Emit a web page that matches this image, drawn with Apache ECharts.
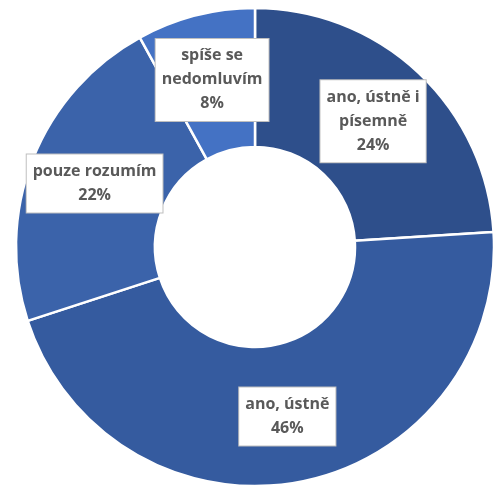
<!DOCTYPE html>
<html>
<head>
<meta charset="utf-8">
<script src="https://cdn.jsdelivr.net/npm/echarts@6/dist/echarts.min.js"></script>
<style>
html,body{margin:0;padding:0;background:#fff;}
#chart{width:494px;height:488px;}
</style>
</head>
<body>
<div id="chart"></div>
<script>
const categories = ['ano, ústně i písemně', 'ano, ústně', 'pouze rozumím', 'spíše se nedomluvím'];
const labelLines = ['ano, ústně i\npísemně', 'ano, ústně', 'pouze rozumím', 'spíše se\nnedomluvím'];
const values = [24, 46, 22, 8];
const colors = ['#2E4F8B', '#355B9F', '#3B63AA', '#4472C4'];

const chart = echarts.init(document.getElementById('chart'));
chart.setOption({
  animation: false,
  series: [{
    type: 'pie',
    center: [255, 247],
    radius: [100, 239],
    startAngle: 90,
    clockwise: true,
    avoidLabelOverlap: false,
    itemStyle: { borderColor: '#ffffff', borderWidth: 2.5 },
    label: {
      show: true,
      position: 'inside',
      formatter: function (p) { return labelLines[p.dataIndex] + '\n' + p.value + '%'; },
      color: '#595959',
      fontFamily: 'Open Sans',
      fontWeight: 'bold',
      fontSize: 16,
      lineHeight: 24,
      backgroundColor: '#ffffff',
      borderColor: '#BFBFBF',
      borderWidth: 1,
      padding: [5, 6, 5, 6],
      align: 'center'
    },
    labelLine: { show: false },
    emphasis: { disabled: true },
    data: categories.map((c, i) => ({ name: c, value: values[i], itemStyle: { color: colors[i] } }))
  }]
});
</script>
</body>
</html>
